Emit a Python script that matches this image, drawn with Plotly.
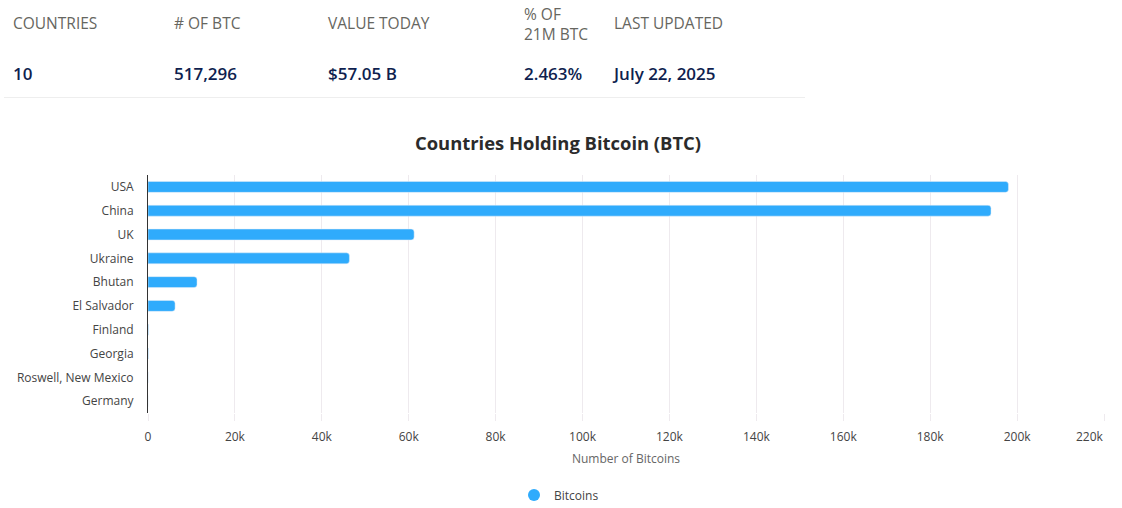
import plotly.graph_objects as go

countries = ['USA', 'China', 'UK', 'Ukraine', 'Bhutan', 'El Salvador', 'Finland', 'Georgia',
             'Roswell, New Mexico', 'Germany']
bitcoins = [198012, 194000, 61245, 46351, 11286, 6233, 90, 66, 13, 0]
tick_vals = [0, 20000, 40000, 60000, 80000, 100000, 120000, 140000, 160000, 180000, 200000, 220000]
tick_text = ['0', '20k', '40k', '60k', '80k', '100k', '120k', '140k', '160k', '180k', '200k', '']
last_tick = '220k'
head_labels = ['COUNTRIES', '# OF BTC', 'VALUE TODAY', '% OF<br>21M BTC', 'LAST UPDATED']
head_values = ['10', '517,296', '$57.05 B', '2.463%', 'July 22, 2025']
head_x = [11, 172, 326, 522, 612]
value_x = [11, 172, 326, 522, 610]

WIDTH, HEIGHT = 1122, 508
LEFT, RIGHT, TOP, BOTTOM = 148, 1104, 175, 413
FONT = 'Open Sans'


def px_x(x):
    return (x - LEFT) / (RIGHT - LEFT)


def px_y(y):
    return (BOTTOM - y) / (BOTTOM - TOP)


def add_text(fig, x, y, text, size, color, anchor='left', weight=400):
    fig.add_annotation(x=px_x(x), y=px_y(y), xref='paper', yref='paper', text=text, showarrow=False,
                       xanchor=anchor, yanchor='middle', align='left',
                       font=dict(family=FONT, size=size, color=color, weight=weight))


fig = go.Figure()
fig.add_trace(go.Bar(y=countries, x=bitcoins, orientation='h', marker_color='#2fabfc', showlegend=False))
# round legend key, the bar's own would be square
fig.add_trace(go.Scatter(x=[None], y=[None], mode='markers', name='Bitcoins',
                         marker=dict(color='#2fabfc', size=12, symbol='circle')))

for x, label in zip(head_x, head_labels):
    add_text(fig, x, 23 if '<br>' not in label else 24, label, 15.5, '#666660')
for x, value in zip(value_x, head_values):
    add_text(fig, x, 74, value, 17, '#0f1f4f', weight=600)

add_text(fig, 1106, 436, last_tick, 12, '#444444', anchor='right')
add_text(fig, 558, 142, 'Countries Holding Bitcoin (BTC)', 18.4, '#2b2b2b', anchor='center', weight=700)

fig.add_shape(type='line', xref='paper', yref='paper', x0=px_x(4), x1=px_x(805), y0=px_y(97.5), y1=px_y(97.5),
              line=dict(color='#eeeeee', width=1))

fig.update_layout(
    width=WIDTH, height=HEIGHT, autosize=False,
    margin=dict(l=LEFT, r=WIDTH - RIGHT, t=TOP, b=HEIGHT - BOTTOM, pad=0, autoexpand=False),
    paper_bgcolor='white', plot_bgcolor='white',
    bargap=0.54, barcornerradius=3,
    font=dict(family=FONT, size=12, color='#444444'),
    legend=dict(orientation='h', x=px_x(559), y=px_y(495), xanchor='center', yanchor='middle',
                font=dict(size=12, color='#444444'), itemsizing='constant'),
)
fig.update_xaxes(range=[0, 220000], tickmode='array', tickvals=tick_vals, ticktext=tick_text,
                 showgrid=True, gridcolor='#eeeaee', gridwidth=1, zeroline=False,
                 ticks='outside', ticklen=7, tickcolor='#eeeaee', ticklabelstandoff=6,
                 tickfont=dict(size=12, color='#444444'),
                 title=dict(text='Number of Bitcoins', font=dict(size=12, color='#666666'), standoff=10))
fig.update_yaxes(autorange='reversed', type='category', categoryorder='array', categoryarray=countries,
                 showgrid=False, zeroline=False, showline=True, linecolor='#333333', linewidth=1,
                 ticks='', ticklabelstandoff=11, tickfont=dict(size=12, color='#444444'))

fig.write_html("out.html", config={'displayModeBar': False},
               post_script="document.body.style.margin='0';")
